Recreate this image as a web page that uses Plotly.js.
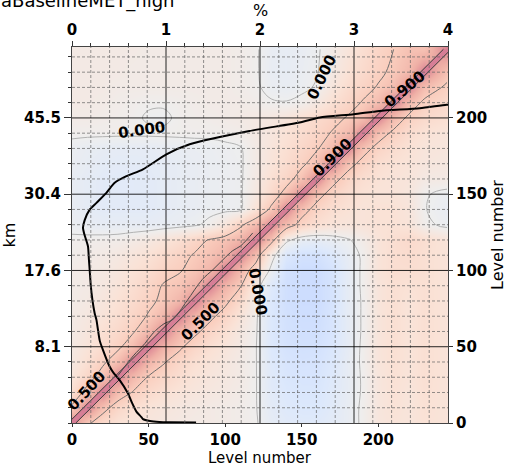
<!DOCTYPE html>
<html>
<head>
<meta charset="utf-8">
<script src="https://cdn.plot.ly/plotly-3.0.1.min.js"></script>
<style>
  html, body { margin: 0; padding: 0; background: #ffffff; }
  #chart { width: 507px; height: 467px; }
</style>
</head>
<body>
<div id="chart"></div>
<script>
// Model levels at which the correlation field is sampled (top sample is level 245)
const gridLevels = [0, 10, 20, 30, 40, 50, 60, 70, 80, 90, 100, 110, 120,
                    130, 140, 150, 160, 170, 180, 190, 200, 210, 220, 230, 245];

// Vertical correlation between levels: rows = level (y), columns = level (x)
const corr = [
  [1.0, 0.55, 0.35, 0.25, 0.2, 0.18, 0.15, 0.12, 0.1, 0.1, 0.08, 0.06, 0.02, -0.12, -0.18, -0.2, -0.2, -0.15, -0.08, 0.03, 0.18, 0.22, 0.2, 0.25, 0.22],
  [0.55, 1.0, 0.6, 0.38, 0.28, 0.22, 0.18, 0.15, 0.12, 0.1, 0.08, 0.06, 0.01, -0.15, -0.22, -0.25, -0.25, -0.18, -0.08, 0.03, 0.18, 0.24, 0.2, 0.26, 0.22],
  [0.3, 0.6, 1.0, 0.65, 0.48, 0.35, 0.28, 0.22, 0.18, 0.15, 0.12, 0.08, 0.01, -0.18, -0.25, -0.28, -0.28, -0.2, -0.1, 0.02, 0.18, 0.25, 0.2, 0.27, 0.22],
  [0.2, 0.38, 0.62, 1.0, 0.68, 0.48, 0.38, 0.3, 0.22, 0.18, 0.14, 0.1, 0.01, -0.2, -0.28, -0.3, -0.3, -0.22, -0.1, 0.02, 0.18, 0.26, 0.22, 0.28, 0.22],
  [0.15, 0.28, 0.45, 0.65, 1.0, 0.7, 0.52, 0.38, 0.28, 0.22, 0.16, 0.1, 0.01, -0.22, -0.3, -0.33, -0.32, -0.25, -0.1, 0.03, 0.2, 0.27, 0.22, 0.28, 0.22],
  [0.12, 0.22, 0.32, 0.45, 0.65, 1.0, 0.72, 0.55, 0.38, 0.28, 0.2, 0.12, 0.01, -0.25, -0.33, -0.36, -0.35, -0.27, -0.12, 0.03, 0.2, 0.28, 0.22, 0.28, 0.22],
  [0.1, 0.18, 0.28, 0.36, 0.48, 0.68, 1.0, 0.72, 0.56, 0.4, 0.28, 0.15, 0.02, -0.25, -0.35, -0.38, -0.38, -0.3, -0.12, 0.02, 0.2, 0.28, 0.22, 0.28, 0.22],
  [0.1, 0.15, 0.22, 0.3, 0.4, 0.52, 0.7, 1.0, 0.72, 0.56, 0.4, 0.22, 0.03, -0.25, -0.36, -0.4, -0.4, -0.3, -0.12, 0.02, 0.2, 0.28, 0.22, 0.28, 0.22],
  [0.08, 0.12, 0.18, 0.26, 0.34, 0.45, 0.55, 0.7, 1.0, 0.72, 0.56, 0.35, 0.06, -0.25, -0.38, -0.42, -0.42, -0.32, -0.12, 0.02, 0.2, 0.28, 0.22, 0.28, 0.22],
  [0.08, 0.1, 0.15, 0.22, 0.3, 0.4, 0.52, 0.58, 0.72, 1.0, 0.72, 0.52, 0.1, -0.22, -0.38, -0.42, -0.42, -0.32, -0.12, 0.03, 0.2, 0.28, 0.25, 0.28, 0.22],
  [0.08, 0.1, 0.12, 0.18, 0.25, 0.32, 0.42, 0.48, 0.58, 0.7, 1.0, 0.7, 0.35, -0.05, -0.35, -0.42, -0.42, -0.32, -0.12, 0.03, 0.22, 0.3, 0.3, 0.28, 0.22],
  [0.05, 0.08, 0.1, 0.14, 0.2, 0.26, 0.34, 0.42, 0.52, 0.6, 0.72, 1.0, 0.65, 0.1, -0.25, -0.35, -0.35, -0.25, -0.1, 0.03, 0.22, 0.3, 0.32, 0.28, 0.22],
  [0.03, 0.04, 0.05, 0.06, 0.1, 0.15, 0.22, 0.3, 0.4, 0.52, 0.6, 0.72, 1.0, 0.62, 0.05, -0.1, -0.12, -0.08, -0.02, 0.08, 0.22, 0.3, 0.35, 0.3, 0.22],
  [-0.05, -0.08, -0.1, -0.1, -0.1, -0.1, -0.08, -0.06, -0.03, 0.05, 0.2, 0.45, 0.68, 1.0, 0.65, 0.4, 0.28, 0.22, 0.2, 0.22, 0.25, 0.25, 0.22, 0.05, -0.05],
  [-0.08, -0.13, -0.16, -0.16, -0.16, -0.16, -0.13, -0.1, -0.08, -0.05, -0.04, -0.02, 0.25, 0.55, 1.0, 0.62, 0.4, 0.3, 0.25, 0.22, 0.25, 0.25, 0.2, 0.01, -0.08],
  [-0.08, -0.13, -0.16, -0.17, -0.17, -0.16, -0.13, -0.1, -0.08, -0.06, -0.04, -0.02, 0.15, 0.35, 0.6, 1.0, 0.6, 0.4, 0.3, 0.25, 0.22, 0.22, 0.18, 0.02, -0.05],
  [-0.08, -0.13, -0.16, -0.17, -0.17, -0.16, -0.13, -0.1, -0.08, -0.06, -0.04, -0.02, 0.12, 0.28, 0.4, 0.62, 1.0, 0.6, 0.4, 0.3, 0.25, 0.22, 0.2, 0.12, 0.1],
  [-0.06, -0.1, -0.14, -0.15, -0.15, -0.14, -0.12, -0.1, -0.08, -0.06, -0.04, -0.02, 0.1, 0.22, 0.32, 0.45, 0.62, 1.0, 0.6, 0.42, 0.3, 0.25, 0.22, 0.18, 0.15],
  [-0.05, -0.08, -0.1, -0.12, -0.12, -0.12, -0.1, -0.08, -0.06, -0.05, -0.03, -0.01, 0.1, 0.2, 0.28, 0.38, 0.48, 0.65, 1.0, 0.6, 0.42, 0.32, 0.25, 0.2, 0.18],
  [0.03, 0.03, 0.03, 0.03, 0.03, 0.03, 0.03, 0.03, 0.03, 0.03, 0.04, 0.06, 0.12, 0.18, 0.25, 0.32, 0.4, 0.52, 0.65, 1.0, 0.62, 0.45, 0.32, 0.25, 0.2],
  [0.08, 0.08, 0.06, 0.05, 0.03, -0.02, -0.03, 0.03, 0.05, 0.06, 0.08, 0.1, 0.12, 0.15, 0.2, 0.28, 0.35, 0.42, 0.52, 0.65, 1.0, 0.65, 0.45, 0.35, 0.28],
  [0.1, 0.1, 0.08, 0.06, 0.04, 0.02, 0.02, 0.04, 0.06, 0.08, 0.08, 0.08, 0.06, 0.02, 0.01, 0.05, 0.15, 0.28, 0.4, 0.52, 0.65, 1.0, 0.65, 0.45, 0.35],
  [0.1, 0.1, 0.1, 0.08, 0.08, 0.08, 0.08, 0.08, 0.08, 0.08, 0.08, 0.06, 0.03, -0.06, -0.08, -0.04, 0.02, 0.18, 0.32, 0.42, 0.52, 0.65, 1.0, 0.65, 0.45],
  [0.1, 0.1, 0.1, 0.1, 0.08, 0.08, 0.08, 0.08, 0.08, 0.08, 0.08, 0.06, 0.02, -0.08, -0.1, -0.06, -0.01, 0.12, 0.25, 0.35, 0.45, 0.55, 0.68, 1.0, 0.6],
  [0.1, 0.1, 0.1, 0.1, 0.1, 0.08, 0.08, 0.08, 0.08, 0.08, 0.08, 0.06, 0.02, -0.08, -0.1, -0.08, -0.02, 0.08, 0.2, 0.3, 0.4, 0.5, 0.6, 0.6, 1.0]
];

// 0.9 correlation contour hugging the diagonal (column position at each row)
const bandRows    = [0, 50, 100, 150, 200, 245];
const band90Left  = [-2.5, 47.5, 97.5, 147.5, 197.5, 242.5];
const band90Right = [2.5, 52.5, 102.5, 152.5, 202.5, 247.5];

// second 0.9 contour branch above the diagonal in the lower troposphere
const outer90Col = [30, 40, 47.5, 53, 60, 66, 75, 85, 92, 98.5, 105, 110, 114, 118];
const outer90Row = [31, 44, 52, 59, 65, 68, 80, 94, 100.5, 107, 113, 116, 120, 124.6];

// profile in percent against level number
const profilePct   = [1.32, 1.04, 0.93, 0.83, 0.755, 0.738, 0.685, 0.64, 0.596, 0.507, 0.44, 0.40, 0.33, 0.295, 0.26, 0.241, 0.217, 0.2, 0.188, 0.18, 0.17, 0.13, 0.117, 0.135, 0.188, 0.26, 0.366, 0.454, 0.579, 0.755, 1.004, 1.252, 1.887, 2.42, 2.636, 2.997, 3.27, 3.70, 3.985, 4.1];
const profileLevel = [0.4, 0.5, 0.7, 1.3, 2.5, 3.9, 7.5, 13, 19.3, 28.1, 33, 37, 47.8, 54, 67.6, 72, 80.7, 90, 100.5, 107, 115.8, 124, 128, 133, 139.9, 144.3, 150.9, 157.5, 161.8, 166.3, 176.1, 182.7, 191.4, 197, 200.3, 202.4, 204.6, 206.4, 208.6, 209];

// axis ticks
const levelTicks = [0, 50, 100, 150, 200];
const kmLevels   = [50, 100, 150, 200];
const kmText     = ['8.1', '17.6', '30.4', '45.5'];
const pctTicks   = [0, 1, 2, 3, 4];

// inline contour labels
const labelText  = ['0.000', '0.000', '0.000', '0.500', '0.500', '0.900', '0.900'];
const labelCol   = [45.7, 163.2, 121.4, 83.6, 9.4, 169.8, 217.4];
const labelRow   = [192.1, 226.8, 85.9, 66.2, 20.8, 173.7, 219.0];
const labelAngle = [-8, -64, 80, -45, -47, -44, -40];

// coolwarm, laid over white at half strength
const coolwarmSoft = [
  [0.0,   'rgb(157,166,224)'],
  [0.125, 'rgb(177,193,245)'],
  [0.25,  'rgb(198,216,255)'],
  [0.375, 'rgb(220,232,252)'],
  [0.5,   'rgb(238,238,238)'],
  [0.625, 'rgb(250,226,214)'],
  [0.75,  'rgb(250,205,189)'],
  [0.875, 'rgb(239,176,166)'],
  [1.0,   'rgb(218,130,147)']
];

const heat = {
  type: 'heatmap', x: gridLevels, y: gridLevels, z: corr,
  colorscale: coolwarmSoft, zmin: -1, zmax: 1, zsmooth: 'best',
  showscale: false, hoverinfo: 'skip', xaxis: 'x', yaxis: 'y'
};

const contourLines = {
  type: 'contour', x: gridLevels, y: gridLevels, z: corr,
  autocontour: false,
  contours: { start: 0, end: 0.5, size: 0.5, coloring: 'lines', showlabels: false },
  colorscale: [[0, '#b2b2b2'], [1, '#6c6c6c']],
  line: { width: 1, smoothing: 1 },
  showscale: false, hoverinfo: 'skip', xaxis: 'x', yaxis: 'y'
};

const bandPolyX = band90Left.concat(band90Right.slice().reverse());
const bandPolyY = bandRows.concat(bandRows.slice().reverse());
const bandFill = {
  type: 'scatter', mode: 'lines', x: bandPolyX, y: bandPolyY,
  fill: 'toself', fillcolor: 'rgb(214,126,150)', line: { width: 0 },
  hoverinfo: 'skip', xaxis: 'x', yaxis: 'y'
};
const dark90 = { color: '#3a3a3a', width: 1 };
const bandLeft  = { type: 'scatter', mode: 'lines', x: band90Left,  y: bandRows, line: dark90, hoverinfo: 'skip', xaxis: 'x', yaxis: 'y' };
const bandRight = { type: 'scatter', mode: 'lines', x: band90Right, y: bandRows, line: dark90, hoverinfo: 'skip', xaxis: 'x', yaxis: 'y' };
const outer90 = { type: 'scatter', mode: 'lines', x: outer90Col, y: outer90Row, line: { color: '#4a4a4a', width: 1, shape: 'spline' }, hoverinfo: 'skip', xaxis: 'x', yaxis: 'y' };

const profile = {
  type: 'scatter', mode: 'lines', x: profilePct, y: profileLevel,
  line: { color: '#000000', width: 2, shape: 'spline', smoothing: 0.6 },
  hoverinfo: 'skip', xaxis: 'x2', yaxis: 'y2'
};

// grid: solid at major ticks, dashed in between
const shapes = [];
for (let k = 1; k < 20; k++) {
  const p = k / 5;
  const major = k % 5 === 0;
  shapes.push({
    type: 'line', xref: 'x2', yref: 'paper', x0: p, x1: p, y0: 0, y1: 1, layer: 'above',
    line: major ? { color: 'rgba(0,0,0,0.85)', width: 1 } : { color: 'rgba(100,100,100,0.7)', width: 1, dash: '3px,2px' }
  });
}
for (let L = 10; L <= 240; L += 10) {
  const major = L % 50 === 0;
  shapes.push({
    type: 'line', xref: 'paper', yref: 'y', x0: 0, x1: 1, y0: L, y1: L, layer: 'above',
    line: major ? { color: 'rgba(0,0,0,0.85)', width: 1 } : { color: 'rgba(100,100,100,0.7)', width: 1, dash: '3px,2px' }
  });
}

const annotations = labelText.map((t, i) => ({
  text: t, x: labelCol[i], y: labelRow[i], xref: 'x', yref: 'y',
  showarrow: false, textangle: labelAngle[i],
  font: { family: 'DejaVu Sans, sans-serif', size: 15, weight: 'bold', color: '#000' }
}));
annotations.push({
  text: 'aBaselineMET_high', xref: 'paper', yref: 'paper', x: -0.195, y: 1.122,
  xanchor: 'left', yanchor: 'middle', showarrow: false,
  font: { family: 'DejaVu Sans, sans-serif', size: 18, color: '#000' }
});
// unit label of the top axis
annotations.push({
  text: '%', xref: 'paper', yref: 'paper', x: 0.5, y: 1.096,
  xanchor: 'center', yanchor: 'middle', showarrow: false,
  font: { family: 'DejaVu Sans, sans-serif', size: 16, color: '#000' }
});
// label of the bottom axis
annotations.push({
  text: 'Level number', xref: 'paper', yref: 'paper', x: 0.5, y: -0.092,
  xanchor: 'center', yanchor: 'middle', showarrow: false,
  font: { family: 'DejaVu Sans, sans-serif', size: 15, color: '#000' }
});

const tickFont = { family: 'DejaVu Sans, sans-serif', size: 15, weight: 'bold', color: '#000' };
const titleFont = { family: 'DejaVu Sans, sans-serif', size: 16, color: '#000' };
const axisCommon = {
  showline: true, linecolor: '#444', linewidth: 1, showgrid: false, zeroline: false,
  ticks: 'outside', tickcolor: '#333', tickwidth: 1, tickfont: tickFont, automargin: false
};

const layout = {
  width: 507, height: 467,
  margin: { l: 72, r: 59, t: 47, b: 44, pad: 0 },
  paper_bgcolor: '#ffffff', plot_bgcolor: '#ffffff',
  showlegend: false,
  font: { family: 'DejaVu Sans, sans-serif', color: '#000' },
  xaxis: Object.assign({}, axisCommon, {
    range: [0, 245.5], tickmode: 'array', tickvals: levelTicks, ticklen: 3
  }),
  xaxis2: Object.assign({}, axisCommon, {
    overlaying: 'x', side: 'top', anchor: 'y2', range: [0, 4],
    tickmode: 'array', tickvals: pctTicks, ticklen: 5,
    minor: { tick0: 0, dtick: 0.2, ticks: 'outside', ticklen: 3, tickcolor: '#333', showgrid: false }
  }),
  yaxis: Object.assign({}, axisCommon, {
    range: [0, 246.5], tickmode: 'array', tickvals: kmLevels, ticktext: kmText, ticklen: 7,
    minor: { tick0: 0, dtick: 10, ticks: 'outside', ticklen: 3, tickcolor: '#333', showgrid: false },
    title: { text: 'km', font: titleFont, standoff: 8 }
  }),
  yaxis2: Object.assign({}, axisCommon, {
    overlaying: 'y', side: 'right', anchor: 'x2', range: [0, 246.5],
    tickmode: 'array', tickvals: levelTicks, ticklen: 4,
    title: { text: 'Level number', font: titleFont, standoff: 5 }
  }),
  shapes: shapes,
  annotations: annotations
};

Plotly.newPlot('chart', [heat, contourLines, bandFill, bandLeft, bandRight, outer90, profile], layout,
  { staticPlot: true, displayModeBar: false });
</script>
</body>
</html>
